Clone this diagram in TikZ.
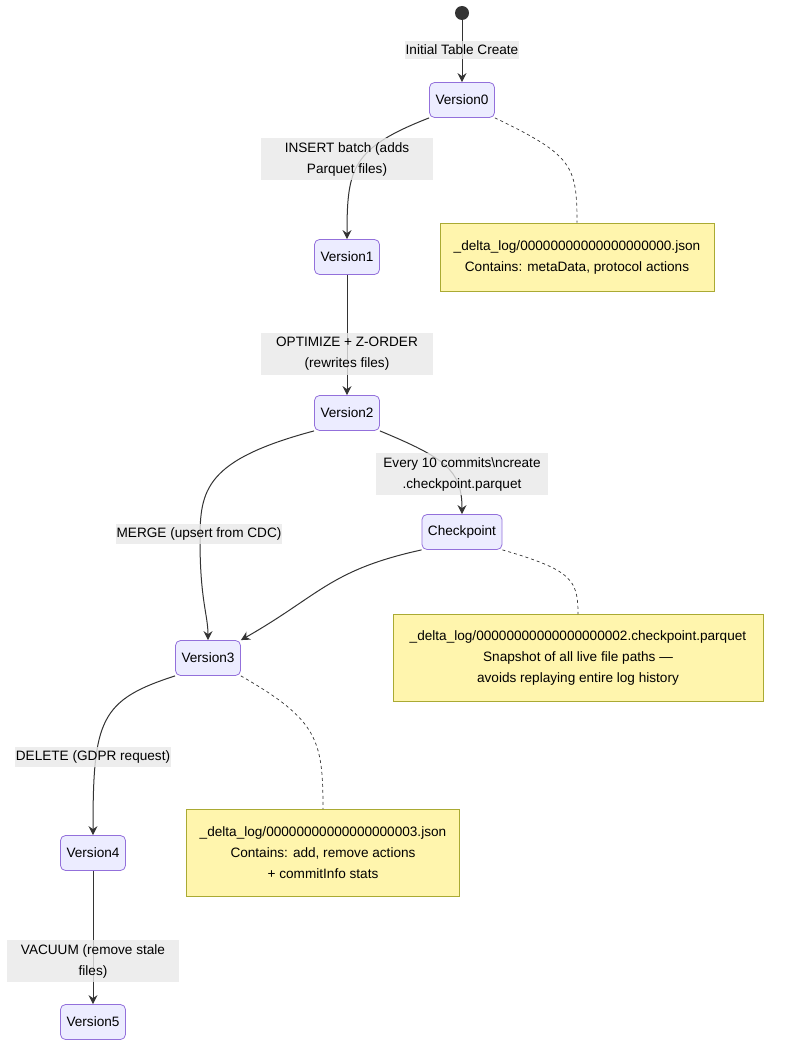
\documentclass[tikz,border=0pt]{standalone}
\usepackage{fontspec}
\setmainfont{Liberation Sans}
\usetikzlibrary{arrows.meta}
\definecolor{statefill}{HTML}{ECECFF}
\definecolor{stateline}{HTML}{9370DB}
\definecolor{notefill}{HTML}{FFF5AD}
\definecolor{noteline}{HTML}{AAAA33}
\definecolor{lblfill}{HTML}{E8E8E8}
\definecolor{edgecol}{HTML}{333333}
\begin{document}
\begin{tikzpicture}[x=1pt,y=1pt,font=\fontsize{13.6}{21}\selectfont,
  state/.style={draw=stateline,fill=statefill,rounded corners=5pt,minimum width=65pt,minimum height=35pt,inner xsep=6pt,line width=0.8pt},
  note/.style={draw=noteline,fill=notefill,align=center,line width=0.8pt},
  lbl/.style={fill=lblfill,fill opacity=0.8,text opacity=1,align=center,inner xsep=1pt,inner ysep=4pt},
  widelbl/.style={lbl,minimum width=172pt},
  flow/.style={draw=edgecol,line width=1pt,-{Stealth[length=9pt,width=9pt,inset=3pt]}},
  link/.style={draw=edgecol,line width=0.7pt,dash pattern=on 3pt off 3pt}]
\useasboundingbox (0,0) rectangle (800,-1046);

\node[circle,fill=edgecol,minimum size=14pt,inner sep=0pt] (start) at (462,-13) {};
\node[state] (v0) at (462,-100) {Version0};
\node[state] (v1) at (347,-257) {Version1};
\node[state] (v2) at (347,-413) {Version2};
\node[state] (ckpt) at (462,-532) {Checkpoint};
\node[state] (v3) at (208,-658) {Version3};
\node[state] (v4) at (93,-853) {Version4};
\node[state] (v5) at (93,-1022) {Version5};

\node[note,minimum width=274pt,minimum height=68pt] (note0) at (577,-257)
  {\_delta\_log/00000000000000000000.json\\Contains: metaData, protocol actions};
\node[note,minimum width=370pt,minimum height=87pt] (note2) at (578,-658)
  {\_delta\_log/00000000000000000002.checkpoint.parquet\\Snapshot of all live file paths —\\avoids replaying entire log history};
\node[note,minimum width=273pt,minimum height=87pt] (note3) at (323,-853)
  {\_delta\_log/00000000000000000003.json\\Contains: add, remove actions\\+ commitInfo stats};

\draw[flow] (start) -- (v0);
\draw[flow] (v0.south west) .. controls (352,-148) and (347,-168) .. (v1.north);
\draw[flow] (v1) -- (v2);
\draw[flow] (v2.south east) .. controls (445,-458) and (462,-470) .. (ckpt.north);
\draw[flow] (v2.south west) .. controls (205,-460) and (200,-490) .. (200,-540)
  .. controls (200,-600) and (208,-615) .. (v3.north);
\draw[flow] (ckpt.south west) .. controls (330,-570) and (320,-595) .. (v3.north east);
\draw[flow] (v3.south west) .. controls (100,-700) and (93,-720) .. (v4.north);
\draw[flow] (v4) -- (v5);

\draw[link] (v0.south east) .. controls (572,-155) and (577,-165) .. (note0.north);
\draw[link] (ckpt.south east) .. controls (572,-570) and (578,-580) .. (note2.north);
\draw[link] (v3.south east) .. controls (318,-720) and (323,-740) .. (note3.north);

\node[lbl] (l0) at (462,-50) {Initial Table Create};
\node[widelbl] (l1) at (347,-159) {INSERT batch (adds\\Parquet files)};
\node[widelbl] (l2) at (347,-354) {OPTIMIZE + Z-ORDER\\(rewrites files)};
\node[widelbl] (l3) at (462,-474) {Every 10 commits\textbackslash ncreate\\.checkpoint.parquet};
\node[lbl] (l4) at (199,-534) {MERGE (upsert from CDC)};
\node[lbl] (l5) at (93,-757) {DELETE (GDPR request)};
\node[widelbl] (l6) at (93,-961) {VACUUM (remove stale\\files)};
\end{tikzpicture}
\end{document}
